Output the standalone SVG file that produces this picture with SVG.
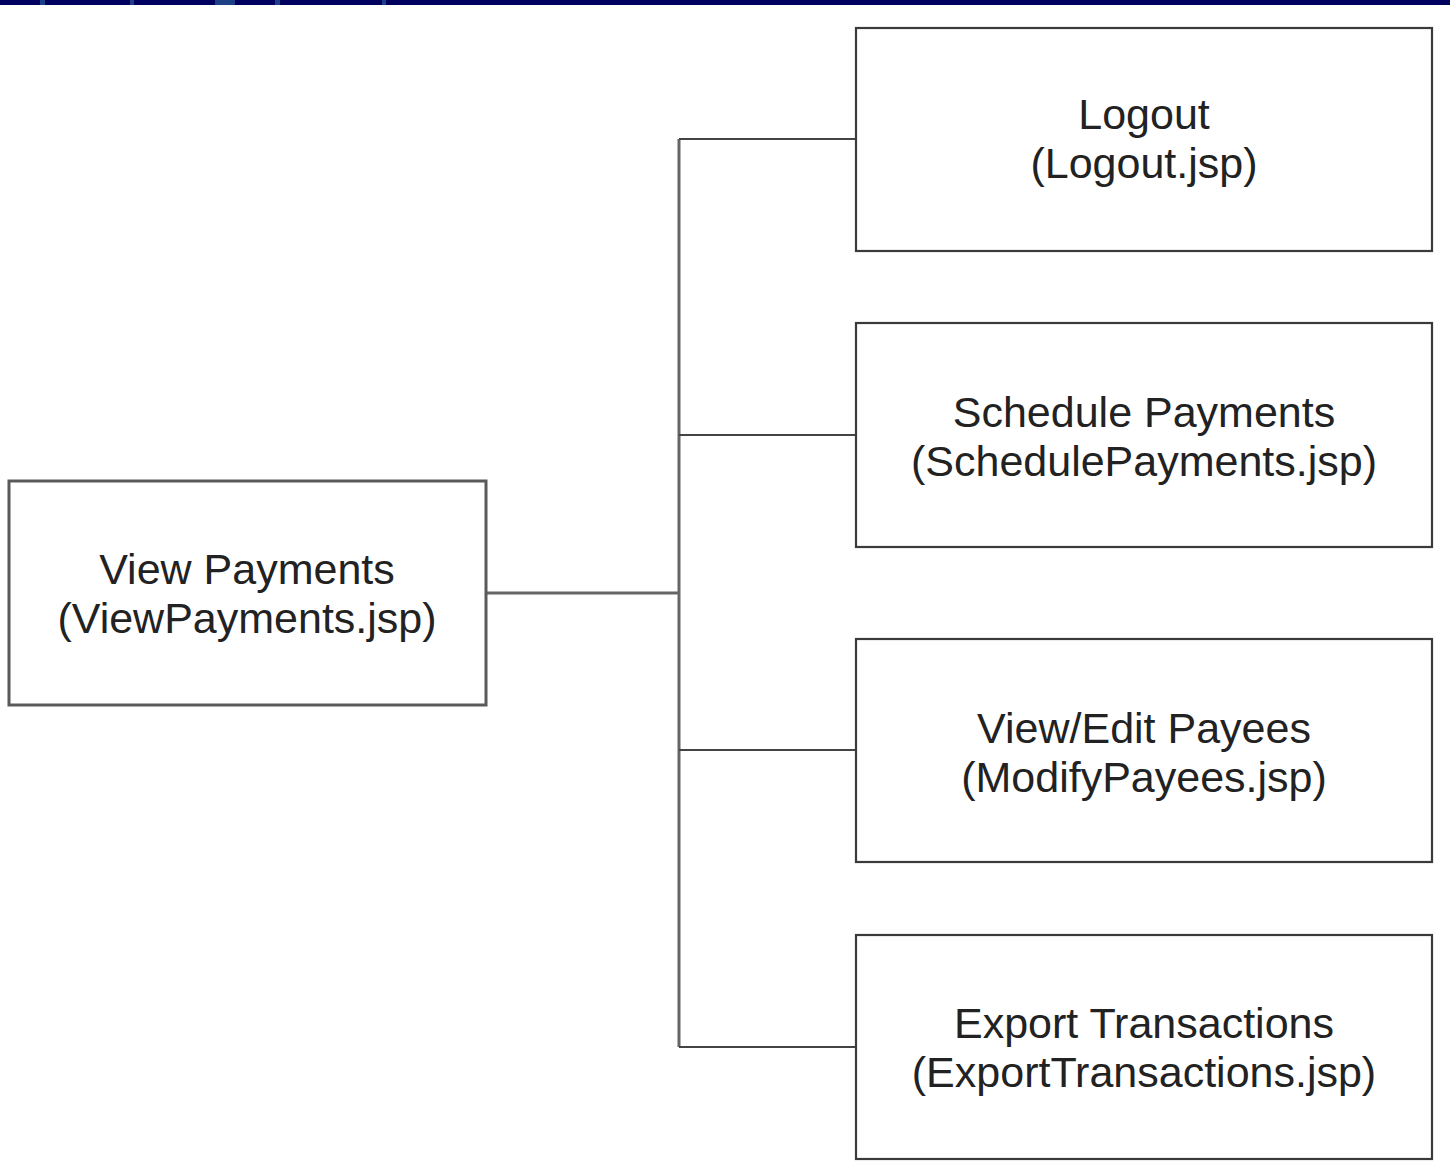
<svg xmlns="http://www.w3.org/2000/svg" width="1450" height="1172" viewBox="0 0 1450 1172">
<style>
.box{fill:#fff;stroke:#3a3a3a;stroke-width:2.2}
.lbox{fill:#fff;stroke:#5a5a5a;stroke-width:3}
.t{font-family:"Liberation Sans",Arial,sans-serif;font-size:43px;fill:#222;text-anchor:middle}
.c{fill:none;stroke:#444;stroke-width:2}
.cl{fill:none;stroke:#666;stroke-width:3}
</style>
<rect x="0" y="0" width="1450" height="5" fill="#00005e"/>
<g fill="#1c3f85">
<rect x="40" y="0" width="5" height="5"/>
<rect x="130" y="0" width="4" height="5"/>
<rect x="215" y="0" width="20" height="5"/>
<rect x="275" y="0" width="5" height="5"/>
<rect x="382" y="0" width="4" height="5"/>
</g>
<g id="connectors">
<line class="cl" x1="486" y1="593" x2="679" y2="593"/>
<line class="cl" x1="679" y1="139" x2="679" y2="1047"/>
<polyline class="c" points="679,139 856,139"/>
<polyline class="c" points="679,435 856,435"/>
<polyline class="c" points="679,750 856,750"/>
<polyline class="c" points="679,1047 856,1047"/>
</g>
<g id="view-payments">
<rect class="lbox" x="9" y="481" width="477" height="224"/>
<text class="t" x="247" y="584">View Payments</text>
<text class="t" x="247" y="633">(ViewPayments.jsp)</text>
</g>
<g id="logout">
<rect class="box" x="856" y="28" width="576" height="223"/>
<text class="t" x="1144" y="129">Logout</text>
<text class="t" x="1144" y="178">(Logout.jsp)</text>
</g>
<g id="schedule-payments">
<rect class="box" x="856" y="323" width="576" height="224"/>
<text class="t" x="1144" y="427">Schedule Payments</text>
<text class="t" x="1144" y="476">(SchedulePayments.jsp)</text>
</g>
<g id="view-edit-payees">
<rect class="box" x="856" y="639" width="576" height="223"/>
<text class="t" x="1144" y="743">View/Edit Payees</text>
<text class="t" x="1144" y="792">(ModifyPayees.jsp)</text>
</g>
<g id="export-transactions">
<rect class="box" x="856" y="935" width="576" height="224"/>
<text class="t" x="1144" y="1038">Export Transactions</text>
<text class="t" x="1144" y="1087">(ExportTransactions.jsp)</text>
</g>
</svg>
